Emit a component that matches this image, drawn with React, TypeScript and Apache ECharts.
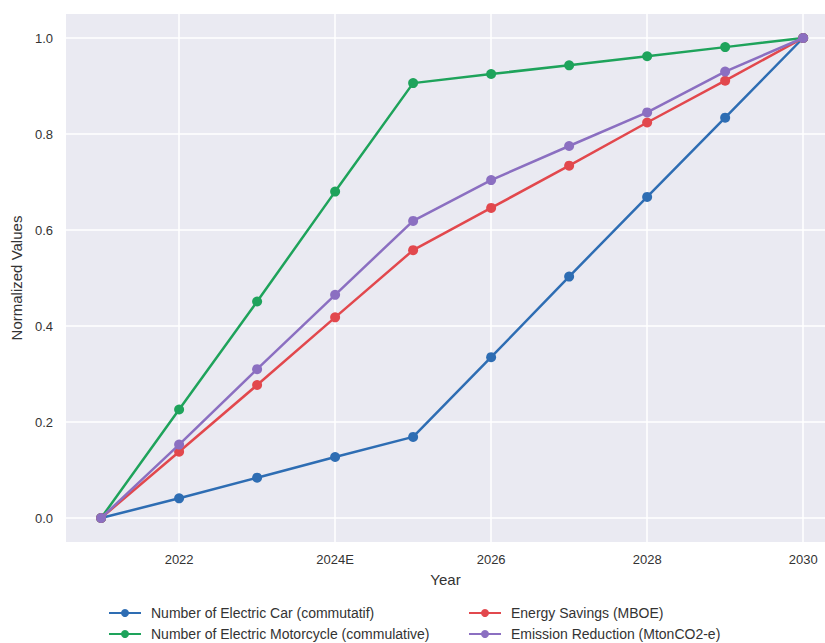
import React, { useEffect, useRef } from "react";
import * as echarts from "echarts";

const years = [2021, 2022, 2023, 2024, 2025, 2026, 2027, 2028, 2029, 2030];
const electricCar = [0, 0.041, 0.084, 0.127, 0.169, 0.335, 0.503, 0.669, 0.834, 1.0];
const electricMotorcycle = [0, 0.226, 0.451, 0.68, 0.906, 0.925, 0.943, 0.962, 0.981, 1.0];
const energySavings = [0, 0.138, 0.277, 0.418, 0.558, 0.646, 0.734, 0.824, 0.911, 1.0];
const emissionReduction = [0, 0.153, 0.31, 0.465, 0.619, 0.704, 0.775, 0.845, 0.93, 1.0];

const xTickValues = [2022, 2024, 2026, 2028, 2030];
const xTickLabels = ["2022", "2024E", "2026", "2028", "2030"];
const yTickValues = [0, 0.2, 0.4, 0.6, 0.8, 1.0];

const seriesNames = [
  "Number of Electric Car (commutatif)",
  "Number of Electric Motorcycle (commulative)",
  "Energy Savings (MBOE)",
  "Emission Reduction (MtonCO2-e)",
];
const seriesValues = [electricCar, electricMotorcycle, energySavings, emissionReduction];
const colors = ["#2e6db3", "#1ea35b", "#e2484d", "#8b6fc1"];

const FONT = "Liberation Sans, Arial, sans-serif";

export default function App() {
  const ref = useRef<HTMLDivElement>(null);
  useEffect(() => {
    if (!ref.current) return;
    const chart = echarts.init(ref.current, undefined, { renderer: "svg" });
    const legendCommon = {
      orient: "vertical" as const,
      top: 606,
      padding: 0,
      itemWidth: 32,
      itemHeight: 10,
      itemGap: 7,
      textStyle: {
        fontFamily: FONT,
        fontSize: 14,
        color: "#333",
        lineHeight: 14,
        padding: [0, 0, 0, 5],
      },
    };
    chart.setOption({
      animation: false,
      backgroundColor: "#ffffff",
      textStyle: { fontFamily: FONT },
      grid: {
        left: 66,
        right: 0,
        top: 14,
        bottom: 101,
        show: true,
        backgroundColor: "#eaeaf2",
        borderWidth: 0,
      },
      legend: [
        { ...legendCommon, left: 108, data: [seriesNames[0], seriesNames[1]] },
        { ...legendCommon, left: 468, data: [seriesNames[2], seriesNames[3]] },
      ],
      xAxis: {
        type: "value",
        min: 2020.55,
        max: 2030.28,
        name: "Year",
        nameLocation: "middle",
        nameGap: 30,
        nameTextStyle: { fontFamily: FONT, fontSize: 15, color: "#333" },
        axisLine: { show: false },
        axisTick: { show: false, customValues: xTickValues },
        axisLabel: {
          customValues: xTickValues,
          formatter: (v: number) => xTickLabels[xTickValues.indexOf(Math.round(v))] ?? String(v),
          fontFamily: FONT,
          fontSize: 13,
          color: "#333",
          margin: 11,
        },
        splitLine: { show: true, lineStyle: { color: "#ffffff", width: 1.5 } },
      },
      yAxis: {
        type: "value",
        min: -0.05,
        max: 1.05,
        name: "Normalized Values",
        nameLocation: "middle",
        nameGap: 40,
        nameTextStyle: { fontFamily: FONT, fontSize: 15, color: "#333" },
        axisLine: { show: false },
        axisTick: { show: false, customValues: yTickValues },
        axisLabel: {
          customValues: yTickValues,
          formatter: (v: number) => v.toFixed(1),
          fontFamily: FONT,
          fontSize: 13,
          color: "#333",
          margin: 13,
        },
        splitLine: { show: true, lineStyle: { color: "#ffffff", width: 1.5 } },
      },
      series: seriesValues.map((vals, i) => ({
        name: seriesNames[i],
        type: "line",
        data: years.map((y, j) => [y, vals[j]]),
        symbol: "circle",
        symbolSize: 10,
        itemStyle: { color: colors[i] },
        lineStyle: { color: colors[i], width: 2.5 },
        z: 2 + i,
      })),
    });
    return () => chart.dispose();
  }, []);
  return <div ref={ref} style={{ width: 825, height: 643, position: "absolute", left: 0, top: 0 }} />;
}
